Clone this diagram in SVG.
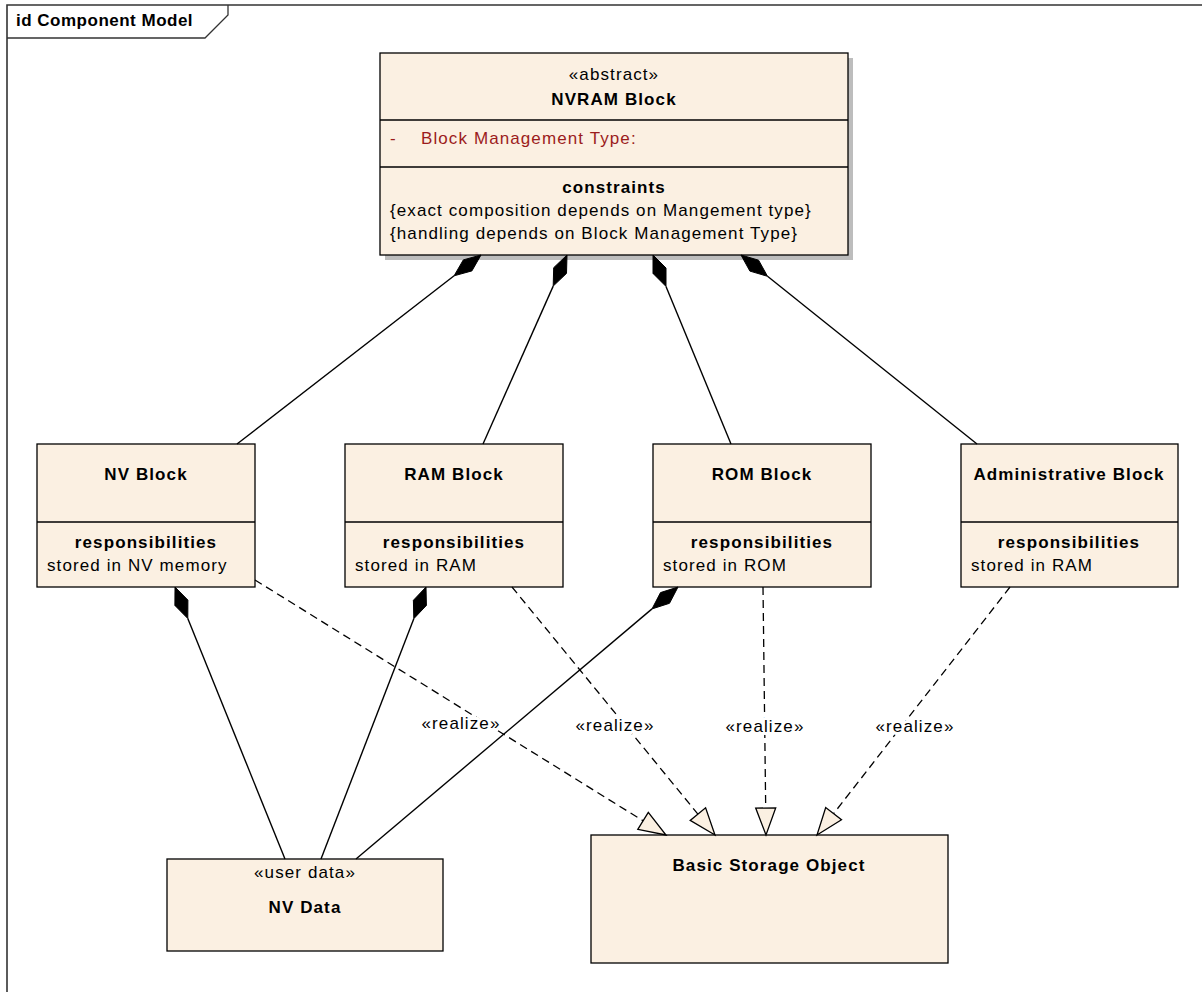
<svg xmlns="http://www.w3.org/2000/svg" width="1202" height="992" viewBox="0 0 1202 992">
<style>
text{font-family:"Liberation Sans",Arial,sans-serif;font-size:17px;letter-spacing:1.1px;fill:#000}
.b{font-weight:bold}
.c{text-anchor:middle}
.box{fill:#fbf0e2;stroke:#000;stroke-width:1.3}
.div{stroke:#000;stroke-width:1.3}
.comp{fill:none;stroke:#000;stroke-width:1.4}
.dia{fill:#000;stroke:#000;stroke-width:1}
.real{fill:none;stroke:#000;stroke-width:1.3;stroke-dasharray:8,5}
.tri{fill:#fbf0e2;stroke:#000;stroke-width:1.3}
.lbl{paint-order:stroke;stroke:#fff;stroke-width:6px;stroke-linejoin:round}
.attr{fill:#9b1c1c}
</style>
<rect x="0" y="0" width="1202" height="992" fill="#fff"/>
<g id="frame">
<path d="M7,992 V5 H1202" fill="none" stroke="#333" stroke-width="1.6"/>
<path d="M7,38 H205 L228,15 V5" fill="none" stroke="#333" stroke-width="1.3"/>
<text x="16" y="26" class="b" style="letter-spacing:0.5px">id Component Model</text>
</g>
<g id="nvram-block">
<rect x="385" y="58" width="468" height="202" fill="#bdbdbd"/>
<rect x="380" y="53" width="468" height="202" class="box"/>
<line x1="380" y1="120" x2="848" y2="120" class="div"/>
<line x1="380" y1="167" x2="848" y2="167" class="div"/>
<text x="614" y="80" class="c">«abstract»</text>
<text x="614" y="105" class="c b">NVRAM Block</text>
<text x="390" y="144" class="attr">-</text>
<text x="421" y="144" class="attr">Block Management Type:</text>
<text x="614" y="193" class="c b">constraints</text>
<text x="390" y="216">{exact composition depends on Mangement type}</text>
<text x="390" y="239">{handling depends on Block Management Type}</text>
</g>
<g id="nv-block">
<rect x="37" y="444" width="218" height="143" class="box"/>
<line x1="37" y1="522" x2="255" y2="522" class="div"/>
<text x="146" y="480" class="c b">NV Block</text>
<text x="146" y="548" class="c b">responsibilities</text>
<text x="47" y="571">stored in NV memory</text>
</g>
<g id="ram-block">
<rect x="345" y="444" width="218" height="143" class="box"/>
<line x1="345" y1="522" x2="563" y2="522" class="div"/>
<text x="454" y="480" class="c b">RAM Block</text>
<text x="454" y="548" class="c b">responsibilities</text>
<text x="355" y="571">stored in RAM</text>
</g>
<g id="rom-block">
<rect x="653" y="444" width="218" height="143" class="box"/>
<line x1="653" y1="522" x2="871" y2="522" class="div"/>
<text x="762" y="480" class="c b">ROM Block</text>
<text x="762" y="548" class="c b">responsibilities</text>
<text x="663" y="571">stored in ROM</text>
</g>
<g id="administrative-block">
<rect x="961" y="444" width="217" height="143" class="box"/>
<line x1="961" y1="522" x2="1178" y2="522" class="div"/>
<text x="1069" y="480" class="c b">Administrative Block</text>
<text x="1069" y="548" class="c b">responsibilities</text>
<text x="971" y="571">stored in RAM</text>
</g>
<g id="nv-data">
<rect x="167" y="859" width="276" height="92" class="box"/>
<text x="305" y="878" class="c">«user data»</text>
<text x="305" y="913" class="c b">NV Data</text>
</g>
<g id="basic-storage-object">
<rect x="591" y="835" width="357" height="128" class="box"/>
<text x="769" y="871" class="c b">Basic Storage Object</text>
</g>
<g id="connectors">
<line x1="454.1" y1="275.8" x2="237" y2="444" class="comp"/>
<polygon points="481,255 471.9,270.9 454.1,275.8 463.3,259.9" class="dia"/>
<line x1="553.2" y1="286.1" x2="483" y2="444" class="comp"/>
<polygon points="567,255 566.5,273.4 553.2,286.1 553.7,267.7" class="dia"/>
<line x1="666" y1="286.4" x2="731" y2="444" class="comp"/>
<polygon points="653,255 666,268 666,286.4 653,273.4" class="dia"/>
<line x1="767.5" y1="276.3" x2="977" y2="444" class="comp"/>
<polygon points="741,255 758.6,260.2 767.5,276.3 749.9,271.1" class="dia"/>
<line x1="187.8" y1="618.5" x2="285" y2="859" class="comp"/>
<polygon points="175,587 187.9,600.1 187.8,618.5 174.9,605.4" class="dia"/>
<line x1="413.8" y1="618.7" x2="321" y2="859" class="comp"/>
<polygon points="426,587 426.4,605.4 413.8,618.7 413.4,600.3" class="dia"/>
<line x1="652" y1="608.9" x2="356" y2="859" class="comp"/>
<polygon points="678,587 669.5,603.3 652,608.9 660.5,592.6" class="dia"/>
<line x1="255" y1="580" x2="643.1" y2="820.8" class="real"/>
<polygon points="666,835 637.8,829.3 648.3,812.3" class="tri"/>
<line x1="512" y1="587" x2="697.9" y2="814.1" class="real"/>
<polygon points="715,835 690.2,820.4 705.6,807.8" class="tri"/>
<line x1="763" y1="587" x2="765.7" y2="808" class="real"/>
<polygon points="766,835 755.7,808.1 775.7,807.9" class="tri"/>
<line x1="1010" y1="587" x2="833.6" y2="813.7" class="real"/>
<polygon points="817,835 841.5,819.8 825.7,807.6" class="tri"/>
<text x="461" y="729" class="c lbl">«realize»</text>
<text x="615" y="731" class="c lbl">«realize»</text>
<text x="765" y="732" class="c lbl">«realize»</text>
<text x="915" y="732" class="c lbl">«realize»</text>
</g>
</svg>
